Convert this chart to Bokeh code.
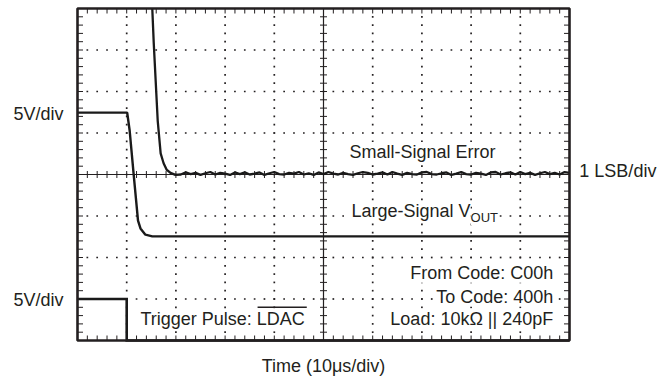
import numpy as np
from bokeh.plotting import figure
from bokeh.models import Range1d, Label
from bokeh.embed import file_html
from bokeh.resources import INLINE

# ---- data (x in time divisions 0..10, y in vertical divisions 0..8) ----
VOUT_X = [0.0, 1.01, 1.06, 1.14, 1.23, 1.28, 1.38, 1.52, 10.0]
VOUT_Y = [5.49, 5.49, 5.06, 4.02, 2.89, 2.70, 2.55, 2.51, 2.51]

SSE_HEAD_X = [1.52, 1.55, 1.63, 1.69, 1.75, 1.81, 1.89, 1.99]
SSE_HEAD_Y = [8.00, 7.16, 5.30, 4.51, 4.27, 4.12, 4.04, 3.99]
SSE_TAIL_Y = [4.00, 4.05, 4.01, 4.04, 3.99, 4.03, 4.06, 4.00, 4.04, 4.02,
              3.99, 4.05, 4.01, 4.05, 4.00, 4.02, 4.05, 3.99, 4.03, 4.06,
              4.01, 4.00, 4.04, 4.02, 4.06, 4.00, 4.03, 3.99, 4.05, 4.01,
              4.06, 4.02, 4.00, 4.04, 4.01, 3.99, 4.03, 4.06, 4.04, 4.00,
              4.02, 4.05, 4.00, 4.06, 4.02, 3.99, 4.04, 4.01, 4.00, 4.05,
              4.06, 4.01, 4.00, 4.03, 4.05, 3.99, 4.02, 4.06, 4.01, 4.00,
              4.04, 4.02, 3.99, 4.05, 4.06, 4.00, 4.03, 4.05, 4.00, 4.06,
              4.01, 4.04, 3.99, 4.03, 4.06, 4.01, 4.04, 4.00, 4.06, 4.04]

TRIG_X = [0.0, 1.0, 1.0, 10.0]
TRIG_Y = [1.0, 1.0, 0.0, 0.0]

X_DIVS = 10
Y_DIVS = 8
MINOR = 5

# ---- layout (pixels) ----
W, H = 664, 378
LEFT_PX, BOTTOM_PX = 77, 340          # graticule origin on the canvas
PX_X, PX_Y = 49.2, 41.5               # pixels per division

INK = "#231f20"
TR = "#1a1a1a"
FONT = "Liberation Sans"

sse_x = list(SSE_HEAD_X) + list(np.linspace(2.1, 10.0, len(SSE_TAIL_Y)))
sse_y = list(SSE_HEAD_Y) + list(SSE_TAIL_Y)

p = figure(width=W, height=H, output_backend="svg", toolbar_location=None,
           x_range=Range1d(-LEFT_PX / PX_X, (W - LEFT_PX) / PX_X),
           y_range=Range1d((BOTTOM_PX - H) / PX_Y, BOTTOM_PX / PX_Y),
           x_axis_location=None, y_axis_location=None, title=None,
           min_border=0)
p.grid.visible = False
p.outline_line_color = None
p.background_fill_color = "white"
p.border_fill_color = "white"

step = 1.0 / MINOR
mx = np.arange(step, X_DIVS - 1e-9, step)
my = np.arange(step, Y_DIVS - 1e-9, step)

# dotted graticule
rows = [r for r in range(1, Y_DIVS) if r != Y_DIVS // 2]
cols = [c for c in range(1, X_DIVS) if c != X_DIVS // 2]
dx = np.concatenate([mx for _ in rows] + [np.full(len(my), c, float) for c in cols])
dy = np.concatenate([np.full(len(mx), r, float) for r in rows] + [my for _ in cols])
p.scatter(dx, dy, marker="square", size=1.7, fill_color=INK, line_color=None)

# centre crosshair
p.segment(x0=[X_DIVS / 2, 0], y0=[0, Y_DIVS / 2], x1=[X_DIVS / 2, X_DIVS], y1=[Y_DIVS, Y_DIVS / 2],
          line_color=INK, line_width=1.2)
p.scatter(mx, np.full(len(mx), Y_DIVS / 2), marker="dash", size=7, angle=np.pi / 2,
          line_color=INK, line_width=1)
p.scatter(np.full(len(my), X_DIVS / 2), my, marker="dash", size=7,
          line_color=INK, line_width=1)

# frame edge ticks (inward)
tx = 5.5 / PX_X
ty = 5.0 / PX_Y
p.segment(x0=mx, y0=np.zeros(len(mx)), x1=mx, y1=np.full(len(mx), ty), line_color=INK, line_width=1)
p.segment(x0=mx, y0=np.full(len(mx), Y_DIVS - ty), x1=mx, y1=np.full(len(mx), Y_DIVS),
          line_color=INK, line_width=1)
p.segment(x0=np.zeros(len(my)), y0=my, x1=np.full(len(my), tx), y1=my, line_color=INK, line_width=1)
p.segment(x0=np.full(len(my), X_DIVS - tx), y0=my, x1=np.full(len(my), X_DIVS), y1=my,
          line_color=INK, line_width=1)

# traces
p.line(VOUT_X, VOUT_Y, line_color=TR, line_width=2.4)
p.line(sse_x, sse_y, line_color=TR, line_width=2.3)
p.line(TRIG_X, TRIG_Y, line_color=TR, line_width=2.6, line_join="miter")

# frame
p.quad(left=[0], right=[X_DIVS], bottom=[0], top=[Y_DIVS], fill_color=None,
       line_color=INK, line_width=2.6)


def lab(x, y, text, align="left", size="18px", xoff=0, yoff=0, bg=None):
    p.add_layout(Label(x=x, y=y, text=text, text_align=align, text_baseline="middle",
                       text_font=FONT, text_font_size=size, text_color=INK,
                       x_offset=xoff, y_offset=yoff, background_fill_color=bg))


lab(-0.285, 5.46, "5V/div", align="right")
lab(-0.285, 0.97, "5V/div", align="right")
lab(10.2, 4.08, "1 LSB/div")
lab(5.53, 4.54, "Small-Signal Error", bg="white")
lab(5.57, 3.12, "Large-Signal V", bg="white")
lab(5.57, 2.96, "OUT", size="13px", xoff=119, bg="white")
lab(9.67, 1.63, "From Code: C00h", align="right", bg="white")
lab(9.67, 1.06, "To Code: 400h", align="right", bg="white")
lab(9.67, 0.53, "Load: 10k\u03a9 || 240pF", align="right", bg="white")
lab(1.28, 0.51, "Trigger Pulse: LDAC", bg="white")
# overline over LDAC
ov = p.line([3.66, 4.66], [0.80, 0.80], line_color=INK, line_width=1.6)
ov.level = "overlay"
lab(5.0, -0.62, "Time (10\u03bcs/div)", align="center")

open("out.html", "w").write(file_html(p, INLINE))
